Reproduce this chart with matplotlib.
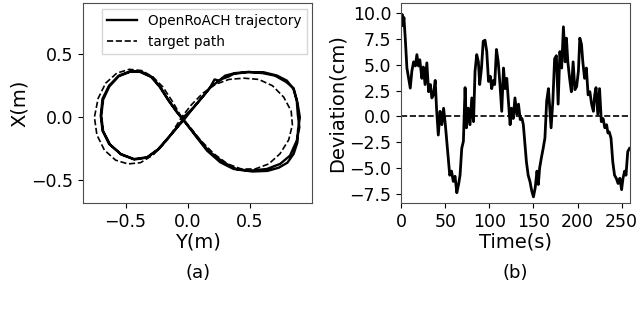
import matplotlib
matplotlib.use('Agg')
from matplotlib import pyplot as plt

# target figure-eight path (Y, X in m)
target_y = [-0.05, -0.12, -0.20, -0.28, -0.37, -0.47, -0.57, -0.66, -0.72, -0.75,
            -0.73, -0.67, -0.58, -0.48, -0.38, -0.28, -0.19, -0.12, -0.05,
            0.03, 0.12, 0.22, 0.33, 0.45, 0.57, 0.68, 0.77, 0.83, 0.84,
            0.81, 0.74, 0.65, 0.54, 0.43, 0.32, 0.21, 0.10, 0.02, -0.05]
target_x = [0.00, 0.12, 0.24, 0.32, 0.37, 0.38, 0.35, 0.27, 0.15, 0.00,
            -0.14, -0.26, -0.34, -0.37, -0.36, -0.30, -0.21, -0.11, 0.00,
            0.10, 0.19, 0.26, 0.30, 0.31, 0.30, 0.25, 0.16, 0.05, -0.06,
            -0.18, -0.29, -0.37, -0.41, -0.41, -0.37, -0.29, -0.18, -0.08, 0.00]

# measured OpenRoACH trajectory, two laps
traj_y = [-0.045, 0.048, 0.128, 0.181, 0.235, 0.275, 0.328, 0.368, 0.475, 0.608,
          0.715, 0.795, 0.848, 0.875, 0.883, 0.896, 0.875, 0.821, 0.741, 0.635,
          0.501, 0.368, 0.261, 0.155, 0.061, -0.019,
          -0.085, -0.152, -0.219, -0.285, -0.379, -0.459, -0.552, -0.632, -0.685, -0.699,
          -0.685, -0.632, -0.539, -0.432, -0.325, -0.232, -0.152, -0.085, -0.032,
          0.040, 0.120, 0.175, 0.215, 0.250, 0.300, 0.380, 0.490, 0.600, 0.700,
          0.790, 0.850, 0.880, 0.900, 0.885, 0.880, 0.850, 0.800, 0.730, 0.640,
          0.520, 0.400, 0.290, 0.170, 0.070, -0.030,
          -0.095, -0.160, -0.225, -0.295, -0.385, -0.465, -0.555, -0.630, -0.680, -0.695,
          -0.680, -0.625, -0.535, -0.430, -0.330, -0.240, -0.160, -0.090, -0.040]
traj_x = [-0.010, 0.079, 0.172, 0.238, 0.278, 0.304, 0.323, 0.344, 0.357, 0.357,
          0.331, 0.291, 0.225, 0.132, 0.026, -0.079, -0.185, -0.304, -0.370, -0.410,
          -0.423, -0.410, -0.357, -0.265, -0.146, -0.040,
          0.040, 0.132, 0.238, 0.317, 0.365, 0.365, 0.331, 0.251, 0.146, 0.013,
          -0.106, -0.212, -0.291, -0.331, -0.317, -0.251, -0.159, -0.079, -0.021,
          0.070, 0.165, 0.230, 0.300, 0.290, 0.330, 0.350, 0.360, 0.350, 0.330,
          0.280, 0.230, 0.120, 0.000, -0.100, -0.200, -0.290, -0.360, -0.400, -0.425,
          -0.430, -0.415, -0.360, -0.270, -0.150, -0.030,
          0.050, 0.140, 0.240, 0.320, 0.360, 0.360, 0.325, 0.245, 0.140, 0.010,
          -0.110, -0.215, -0.295, -0.335, -0.320, -0.255, -0.165, -0.085, -0.020]

# deviation from target over time
time_s = [0, 1, 2, 3, 4.5, 6.4, 8.3, 10.2, 12, 14, 16, 17.7, 19.5, 21, 23.4, 25, 27, 29, 31, 33,
          34.7, 36.5, 38.5, 40, 42, 44, 46, 48, 50, 51.6, 53.5, 55, 57, 59, 61, 63, 65,
          66.7, 68.6, 70.5, 72.4, 74, 76, 78, 80, 82, 83.7, 85.6, 87.5, 89, 91, 93, 95,
          97, 99, 101, 102.6, 104.5, 106, 108, 110, 112, 114, 116, 117.8, 119.7, 121.6,
          123.5, 125, 127, 129, 131, 133, 135, 137, 138.5, 140.4, 142, 144, 146, 148,
          150, 152, 154, 155.5, 157, 159, 161, 163, 165, 167, 168.5, 170, 172, 174, 176,
          178, 180, 182, 184, 186, 187.4, 189, 191, 193, 195, 197, 199, 201, 202.6,
          204.5, 206, 208, 210, 212, 214, 216, 218, 219.5, 221, 223, 225, 227, 229,
          231, 233, 234.5, 236, 238, 240, 242, 244, 246, 248, 250, 251.6, 253.5, 255,
          257, 259]
deviation = [9.0, 9.9, 8.8, 9.6, 7.6, 4.7, 3.7, 2.75, 4.4, 5.3, 4.9, 6.0, 4.9, 5.5, 3.7,
             4.8, 3.1, 5.2, 2.4, 3.1, 1.8, 2.1, 3.5, 0.8, -1.8, 0.5, -0.8, 0.8, -0.8,
             -2.4, -4.4, -5.7, -5.3, -6.3, -5.8, -7.4, -6.6, -5.7, -3.1, -2.4, 2.8,
             -1.1, 0.8, -0.8, 1.8, -0.5, 4.4, 6.0, 5.3, 3.1, 4.7, 7.3, 7.4, 6.3, 3.4,
             3.9, 2.7, 3.5, 3.1, 6.5, 5.3, 3.1, 0.5, 4.7, 2.7, 3.7, 1.5, -0.8, 0.8,
             -0.2, 1.8, 0.2, 1.2, -0.3, -0.2, -0.8, -2.8, -4.4, -5.7, -6.3, -7.2, -7.8,
             -6.9, -5.3, -6.6, -5.0, -4.0, -3.1, -2.1, 1.5, 2.7, 0.8, -1.1, 1.5, 5.6,
             5.9, 1.2, 6.3, 4.7, 8.7, 5.3, 7.6, 5.3, 3.7, 2.4, 5.3, 2.6, 2.9, 4.4, 7.6,
             7.0, 5.3, 3.7, 4.7, 2.1, 2.4, 1.2, 0.5, 2.1, 2.8, 0.2, 2.7, -0.5, -0.2,
             -1.1, -0.8, -1.6, -1.5, -2.1, -4.4, -5.7, -6.0, -6.5, -6.0, -7.1, -6.0,
             -5.3, -5.7, -3.4, -3.1]

fig = plt.figure(figsize=(6.4, 3.1), dpi=100)
ax1 = fig.add_axes([0.130, 0.345, 0.358, 0.645])
ax2 = fig.add_axes([0.627, 0.345, 0.358, 0.645])

ax1.plot(traj_y, traj_x, color='k', lw=1.7, label='OpenRoACH trajectory')
ax1.plot(target_y, target_x, color='k', lw=1.2, ls='--', label='target path')
ax1.set_xlim(-0.84, 1.0)
ax1.set_ylim(-0.68, 0.905)
ax1.set_xticks([-0.5, 0.0, 0.5])
ax1.set_yticks([-0.5, 0.0, 0.5])
ax1.set_xlabel('Y(m)', fontsize=14, labelpad=1)
ax1.set_ylabel('X(m)', fontsize=14, labelpad=2)
ax1.legend(loc='upper right', fontsize=9.8, handlelength=2.2, borderaxespad=0.4,
           fancybox=False)

ax2.plot(time_s, deviation, color='k', lw=2.0)
ax2.axhline(0, color='k', lw=1.2, ls='--')
ax2.set_xlim(0, 260)
ax2.set_ylim(-8.4, 11)
ax2.set_xticks([0, 50, 100, 150, 200, 250])
ax2.set_yticks([-7.5, -5.0, -2.5, 0.0, 2.5, 5.0, 7.5, 10.0])
ax2.set_xlabel('Time(s)', fontsize=14, labelpad=1)
ax2.set_ylabel('Deviation(cm)', fontsize=14, labelpad=2)

for ax in (ax1, ax2):
    ax.tick_params(labelsize=12.5)
    for s in ax.spines.values():
        s.set_color('0.3')

fig.text(0.309, 0.119, '(a)', ha='center', va='center', fontsize=13)
fig.text(0.805, 0.119, '(b)', ha='center', va='center', fontsize=13)

fig.savefig('out.png', dpi=100)
